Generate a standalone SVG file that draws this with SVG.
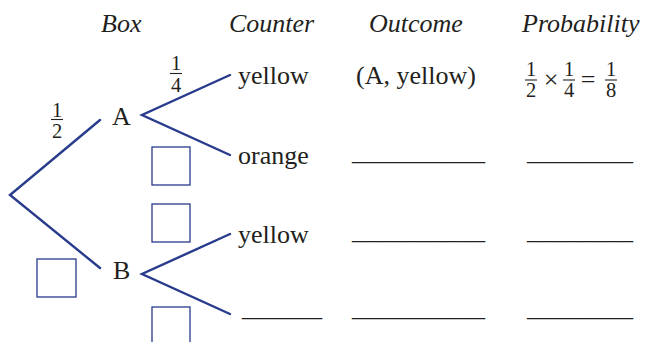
<svg xmlns="http://www.w3.org/2000/svg" width="647" height="342" viewBox="0 0 647 342">
<style>
.t{font-family:"Liberation Serif","Times New Roman",serif;font-size:26px;fill:#231f20}
.h{font-style:italic}
.f{font-family:"Liberation Serif","Times New Roman",serif;font-size:20.5px;fill:#231f20;text-anchor:middle}
.bar{stroke:#231f20;stroke-width:1.1}
.br{fill:none;stroke:#283b8c;stroke-width:2.4;stroke-linecap:round;stroke-linejoin:miter}
.bx{fill:#fff;stroke:#283b8c;stroke-width:1.3}
</style>
<rect width="647" height="342" fill="#fff"/>
<g id="headers">
<text class="t h" x="101" y="32">Box</text>
<text class="t h" x="229" y="32">Counter</text>
<text class="t h" x="369" y="32">Outcome</text>
<text class="t h" x="522" y="32">Probability</text>
</g>
<g id="connectors">
<polyline class="br" points="100,120 10,195 100,268"/>
<polyline class="br" points="230,75 142,115 230,155"/>
<polyline class="br" points="230,234 142,274 230,314"/>
</g>
<g id="prob-half">
<text class="f" x="57" y="117">1</text>
<line class="bar" x1="51" y1="119.5" x2="63" y2="119.5"/>
<text class="f" x="57" y="138">2</text>
</g>
<g id="prob-quarter">
<text class="f" x="176" y="70">1</text>
<line class="bar" x1="170" y1="73.5" x2="182" y2="73.5"/>
<text class="f" x="176" y="92">4</text>
</g>
<g id="node-A"><text class="t" x="112" y="125">A</text></g>
<g id="node-B"><text class="t" x="113" y="279">B</text></g>
<g id="boxes">
<rect class="bx" x="152" y="147" width="38" height="38"/>
<rect class="bx" x="152" y="204" width="38" height="38"/>
<rect class="bx" x="37" y="259" width="39" height="38"/>
<rect class="bx" x="152" y="307" width="38" height="40"/>
</g>
<g id="counters">
<text class="t" x="238" y="84">yellow</text>
<text class="t" x="238" y="164">orange</text>
<text class="t" x="238" y="243">yellow</text>
<text class="t" x="242" y="316" textLength="80" lengthAdjust="spacingAndGlyphs">______</text>
</g>
<g id="outcomes">
<text class="t" x="356" y="84">(A, yellow)</text>
<text class="t" x="352" y="160" textLength="133" lengthAdjust="spacingAndGlyphs">__________</text>
<text class="t" x="352" y="239" textLength="133" lengthAdjust="spacingAndGlyphs">__________</text>
<text class="t" x="352" y="316" textLength="133" lengthAdjust="spacingAndGlyphs">__________</text>
</g>
<g id="probabilities">
<text class="f" x="531" y="76">1</text>
<line class="bar" x1="525" y1="80" x2="537" y2="80"/>
<text class="f" x="531" y="97">2</text>
<text class="t" x="551" y="88" text-anchor="middle">×</text>
<text class="f" x="569" y="76">1</text>
<line class="bar" x1="563" y1="80" x2="575" y2="80"/>
<text class="f" x="569" y="97">4</text>
<text class="t" x="588" y="88" text-anchor="middle">=</text>
<text class="f" x="611" y="76">1</text>
<line class="bar" x1="605" y1="80" x2="617" y2="80"/>
<text class="f" x="611" y="97">8</text>
<text class="t" x="527" y="160" textLength="106" lengthAdjust="spacingAndGlyphs">________</text>
<text class="t" x="527" y="239" textLength="106" lengthAdjust="spacingAndGlyphs">________</text>
<text class="t" x="527" y="316" textLength="106" lengthAdjust="spacingAndGlyphs">________</text>
</g>
</svg>
